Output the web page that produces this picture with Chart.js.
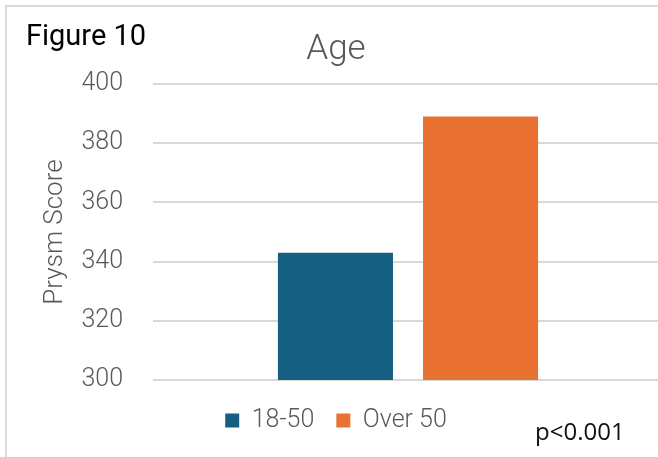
<!DOCTYPE html>
<html>
<head>
<meta charset="utf-8">
<script src="https://cdn.jsdelivr.net/npm/chart.js@4.4.1/dist/chart.umd.min.js"></script>
<style>
  html, body { margin: 0; padding: 0; background: #fff; overflow: hidden; }
  body { width: 658px; height: 457px; position: relative; }
  #frame {
    position: absolute; left: 5px; top: 5px; width: 700px; height: 500px;
    border-left: 2px solid #dadada; border-top: 2px solid #dadada;
  }
  #wrap { position: absolute; left: 0; top: 0; width: 672px; height: 457px; }
  #fig {
    position: absolute; left: 26px; top: 20.6px;
    font: 29px/1 Roboto, sans-serif; color: #000;
  }
  #pval {
    position: absolute; left: 535px; top: 418.7px;
    font: 24px/1 "Open Sans", sans-serif; color: #111;
  }
</style>
</head>
<body>
<div id="frame"></div>
<div id="wrap"><canvas id="age-chart"></canvas></div>
<div id="fig">Figure 10</div>
<div id="pval">p&lt;0.001</div>

<script>
const chartTitle = 'Age';
const ageGroups = ['18-50', 'Over 50'];
const prysmScores = [343, 389];
const scoreTicks = [300, 320, 340, 360, 380, 400];

const groupColors = ['#156082', '#e97132'];
const grey = '#595959';

const ctx = document.getElementById('age-chart');

new Chart(ctx, {
  type: 'bar',
  data: {
    labels: [''],
    datasets: ageGroups.map((g, i) => ({
      label: g,
      data: [prysmScores[i]],
      backgroundColor: groupColors[i],
      borderWidth: 0,
      categoryPercentage: 0.569,
      barPercentage: 0.793
    }))
  },
  options: {
    responsive: true,
    maintainAspectRatio: false,
    animation: false,
    // equal side padding keeps title and legend centred on the frame
    layout: { padding: { left: 9, right: 9, top: 0, bottom: 14 } },
    plugins: {
      title: {
        display: true,
        text: chartTitle,
        color: grey,
        font: { family: 'Roboto', size: 35, weight: 300 },
        padding: { top: 29, bottom: 13 }
      },
      legend: {
        position: 'bottom',
        labels: {
          color: grey,
          font: { family: 'Roboto', size: 25, weight: 300 },
          boxWidth: 14,
          boxHeight: 14,
          padding: 22
        }
      },
      tooltip: { enabled: false }
    },
    scales: {
      x: {
        grid: { display: false },
        border: { display: false },
        ticks: { display: false },
        afterFit: (scale) => { scale.height = 6; }
      },
      y: {
        min: scoreTicks[0],
        max: scoreTicks[scoreTicks.length - 1],
        afterBuildTicks: (scale) => { scale.ticks = scoreTicks.map(v => ({ value: v })); },
        afterFit: (scale) => { scale.width = 144; },
        grid: { color: '#d9d9d9', lineWidth: 2, drawTicks: false },
        border: { display: false },
        ticks: {
          color: grey,
          padding: 30,
          font: { family: 'Roboto', size: 25, weight: 300 }
        },
        title: {
          display: true,
          text: 'Prysm Score',
          color: grey,
          font: { family: 'Roboto', size: 26, weight: 300 },
          padding: { top: 31, bottom: 0 }
        }
      }
    }
  }
});
</script>
</body>
</html>
